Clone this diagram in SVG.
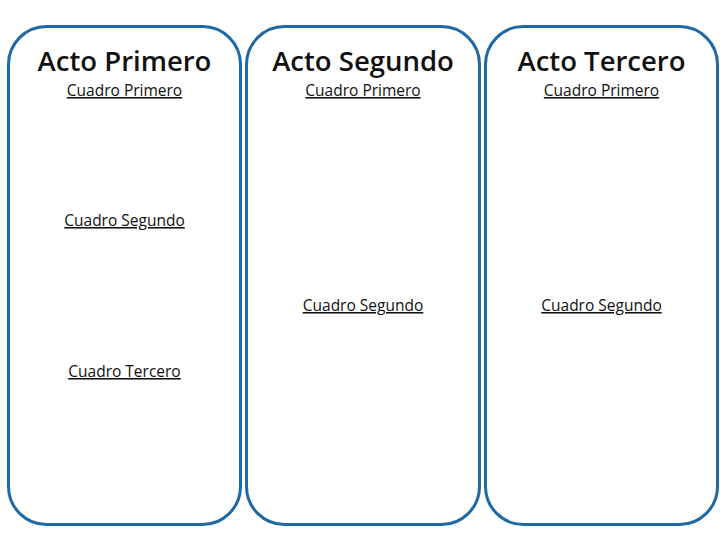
<svg xmlns="http://www.w3.org/2000/svg" width="720" height="540" viewBox="0 0 720 540">
<style>
.box{fill:#fff;stroke:#1f6aa5;stroke-width:3}
.t{font-family:"Open Sans","Liberation Sans",sans-serif;font-size:27.5px;font-weight:600;text-anchor:middle;fill:#111}
.s{font-family:"Open Sans","Liberation Sans",sans-serif;font-size:15.5px;text-anchor:middle;fill:#111;text-decoration:underline}
</style>
<rect width="720" height="540" fill="#fff"/>
<g id="acto1">
<rect class="box" x="8.5" y="26.5" width="232" height="498" rx="38"/>
<text class="t" x="124.5" y="71">Acto Primero</text>
<text class="s" x="124.5" y="96">Cuadro Primero</text>
<text class="s" x="124.5" y="226">Cuadro Segundo</text>
<text class="s" x="124.5" y="377">Cuadro Tercero</text>
</g>
<g id="acto2">
<rect class="box" x="246.5" y="26.5" width="233" height="498" rx="38"/>
<text class="t" x="363" y="71">Acto Segundo</text>
<text class="s" x="363" y="96">Cuadro Primero</text>
<text class="s" x="363" y="311">Cuadro Segundo</text>
</g>
<g id="acto3">
<rect class="box" x="485.5" y="26.5" width="232" height="498" rx="38"/>
<text class="t" x="601.5" y="71">Acto Tercero</text>
<text class="s" x="601.5" y="96">Cuadro Primero</text>
<text class="s" x="601.5" y="311">Cuadro Segundo</text>
</g>
<g id="connectors"/>
</svg>
